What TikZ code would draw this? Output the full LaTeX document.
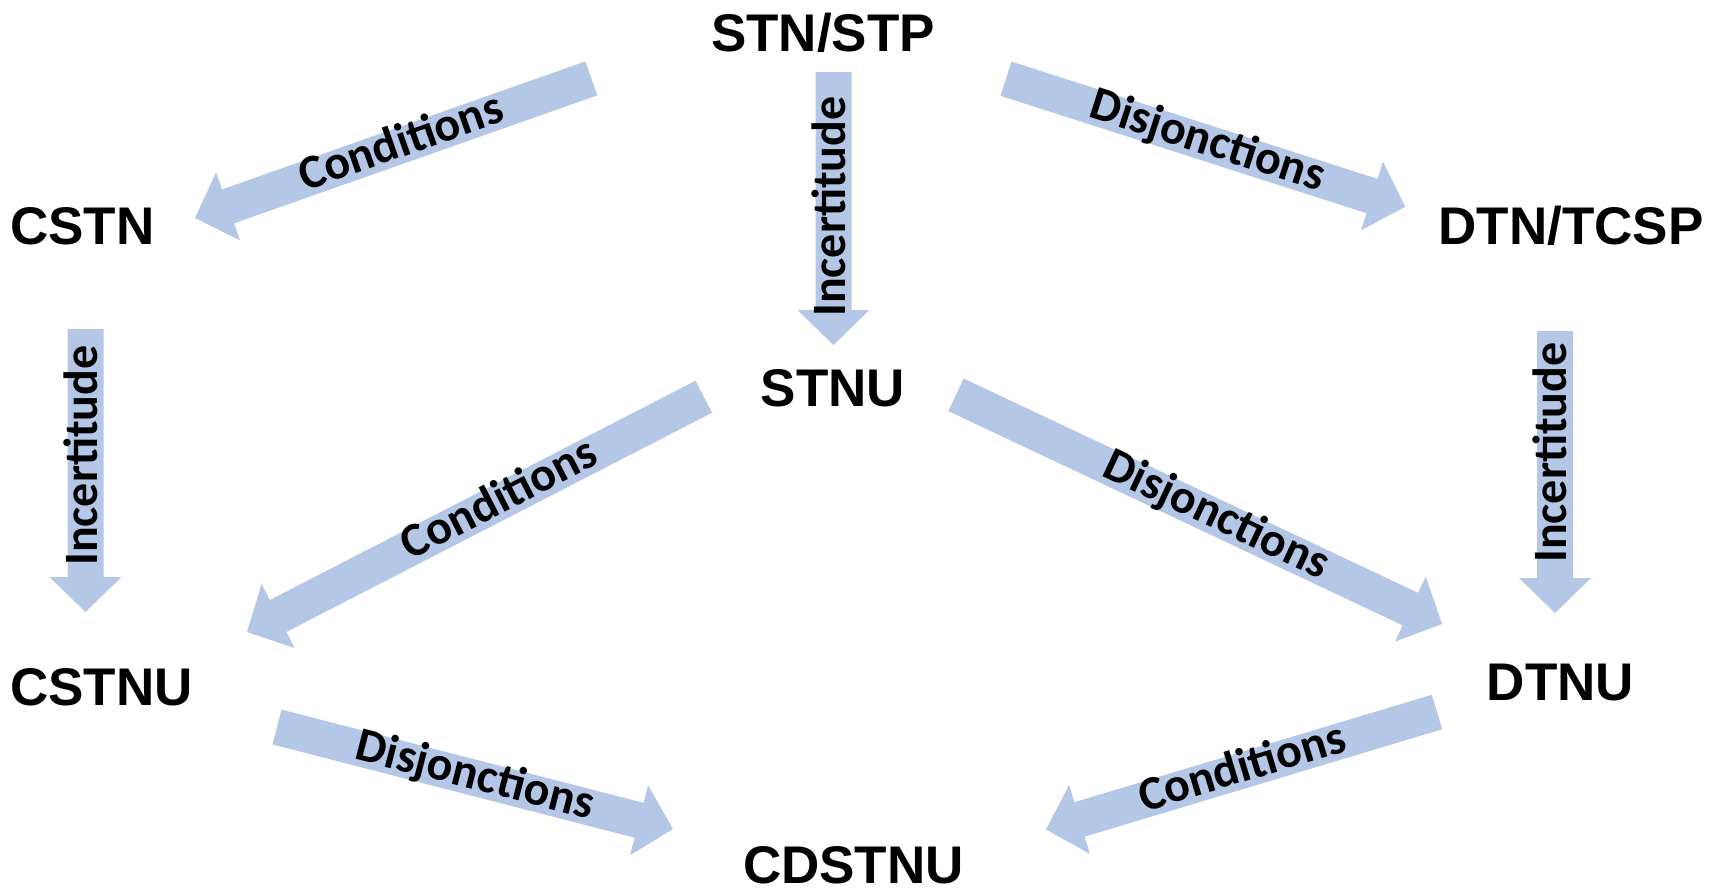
\documentclass[tikz,border=0pt]{standalone}
\usepackage{fontspec}
\newfontfamily\nodefont{Liberation Sans}
\newfontfamily\lblfont{Carlito}
\usetikzlibrary{calc}
\definecolor{arrowblue}{HTML}{B4C7E7}
\tikzset{
  model/.style={font=\nodefont\bfseries\fontsize{53}{60}\selectfont, inner sep=0pt, anchor=base},
  lbl/.style={font=\lblfont\bfseries\fontsize{48}{54}\selectfont, inner sep=0pt, anchor=base},
  barrowfill/.style={fill=arrowblue},
}
% block arrow from tail #1 to tip #2
\newcommand\blockarrow[2]{%
  \coordinate (ba-base) at ($(#2)!35pt!(#1)$);
  \fill[barrowfill] ($(#1)!18pt!90:(#2)$) -- ($(ba-base)!18pt!90:(#2)$)
    -- ($(ba-base)!36pt!90:(#2)$) -- (#2) -- ($(ba-base)!36pt!-90:(#2)$)
    -- ($(ba-base)!18pt!-90:(#2)$) -- ($(#1)!18pt!-90:(#2)$) -- cycle;
}
% label reading from #1 towards #2, at fraction #3 from #1
\newcommand\arrowlabel[4]{%
  \path let \p1=($(#2)-(#1)$), \n1={atan2(\y1,\x1)} in
    node[lbl, rotate=\n1] at ($($(#1)!#3!(#2)$)!11.5pt!-90:(#2)$) {#4};
}
\begin{document}
\begin{tikzpicture}[x=1pt,y=-1pt]
\useasboundingbox (0,0) rectangle (1721,887);

% models
\node[model] (stn)    at (823,51.5)  {STN/STP};
\node[model] (cstn)   at (82.5,244)  {CSTN};
\node[model] (dtn)    at (1571,244)  {DTN/TCSP};
\node[model] (stnu)   at (833,406)   {STNU};
\node[model] (cstnu)  at (101.5,705) {CSTNU};
\node[model] (dtnu)   at (1560.5,700){DTNU};
\node[model] (cdstnu) at (853.5,883) {CDSTNU};

% arrow ends
\coordinate (a1t) at (591.3,78.4);  \coordinate (a1h) at (195,218);
\coordinate (a2t) at (833.5,72);    \coordinate (a2h) at (833.5,345);
\coordinate (a3t) at (1006,78.7);   \coordinate (a3h) at (1405.3,206.7);
\coordinate (a4t) at (85.5,329);    \coordinate (a4h) at (85.5,612);
\coordinate (a5t) at (1555,331);    \coordinate (a5h) at (1555,613);
\coordinate (a6t) at (703.8,396.7); \coordinate (a6h) at (247,632);
\coordinate (a7t) at (956,394.8);   \coordinate (a7h) at (1442,624);
\coordinate (a8t) at (277,727);     \coordinate (a8h) at (673,829);
\coordinate (a9t) at (1437,712);    \coordinate (a9h) at (1046,829.5);

\blockarrow{a1t}{a1h}
\blockarrow{a2t}{a2h}
\blockarrow{a3t}{a3h}
\blockarrow{a4t}{a4h}
\blockarrow{a5t}{a5h}
\blockarrow{a6t}{a6h}
\blockarrow{a7t}{a7h}
\blockarrow{a8t}{a8h}
\blockarrow{a9t}{a9h}

\arrowlabel{a1h}{a1t}{0.522}{Conditions}
\arrowlabel{a2h}{a2t}{0.507}{Incertitude}
\arrowlabel{a3t}{a3h}{0.503}{Disjonctions}
\arrowlabel{a4h}{a4t}{0.553}{Incertitude}
\arrowlabel{a5h}{a5t}{0.569}{Incertitude}
\arrowlabel{a6h}{a6t}{0.555}{Conditions}
\arrowlabel{a7t}{a7h}{0.534}{Disjonctions}
\arrowlabel{a8t}{a8h}{0.499}{Disjonctions}
\arrowlabel{a9h}{a9t}{0.504}{Conditions}
\end{tikzpicture}
\end{document}
